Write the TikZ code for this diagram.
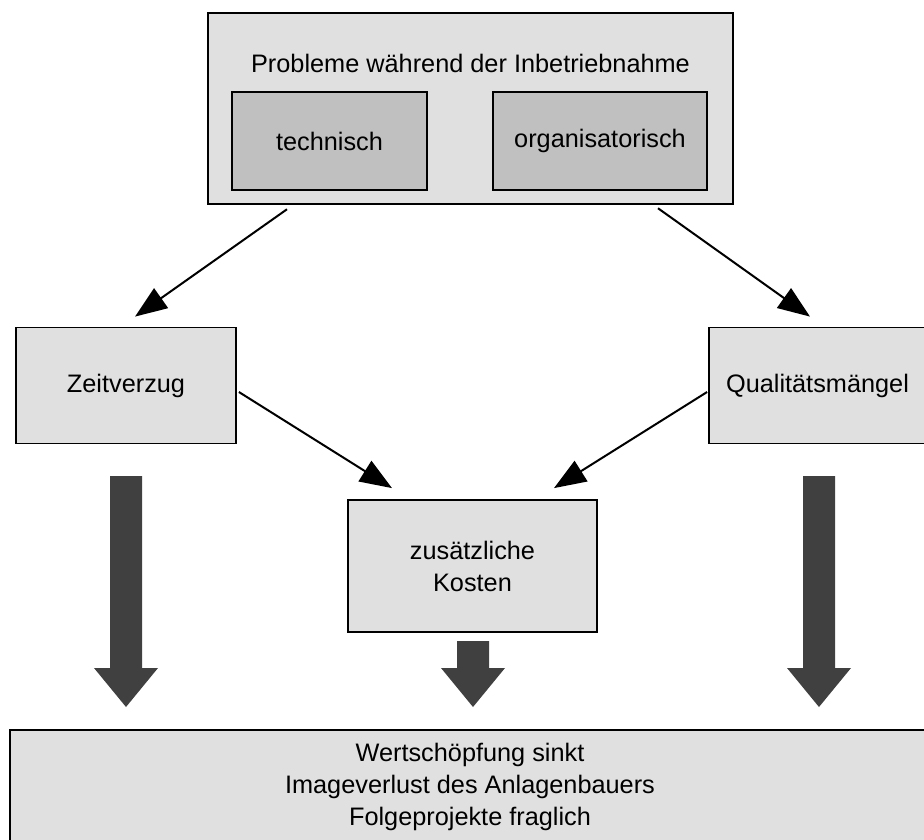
\documentclass[tikz,border=0pt]{standalone}
\usepackage{fontspec}
\setmainfont{Liberation Sans}
\usetikzlibrary{arrows.meta}
\definecolor{boxgray}{HTML}{E0E0E0}
\definecolor{innergray}{HTML}{C0C0C0}
\definecolor{fatgray}{HTML}{404040}
% filled block arrow: centre x, top of shaft, tip (all in px units)
\newcommand\fatarrow[3]{%
  \fill[fatgray] (#1-16,#2) -- (#1+16,#2) -- (#1+16,#3-39) -- (#1+32,#3-39)
    -- (#1,#3) -- (#1-32,#3-39) -- (#1-16,#3-39) -- cycle;}
\begin{document}
\begin{tikzpicture}[x=1pt,y=-1pt,
  every node/.style={font=\fontsize{25.3}{32}\selectfont, inner sep=0pt, align=center},
  outerbox/.style={draw=black, fill=boxgray, line width=2.5pt},
  plainbox/.style={draw=black, fill=boxgray, line width=1.8pt},
  innerbox/.style={draw=black, fill=innergray, line width=1.8pt},
  thinarrow/.style={draw=black, line width=2pt, -{Triangle[length=32pt,width=24pt]}}]
\useasboundingbox (0,0) rectangle (924,839);
\clip (0,0) rectangle (924,839);

% problem box with its two categories
\node[outerbox, minimum width=525pt, minimum height=191pt] (top) at (470.5,108.5) {};
\node (title) at (470.5,63) {Probleme während der Inbetriebnahme};
\node[innerbox, minimum width=195pt, minimum height=98pt] (tech) at (329.5,141) {technisch};
\node[innerbox, minimum width=214pt, minimum height=98pt] (org) at (600,141) {organisatorisch};

% consequences
\node[plainbox, minimum width=220pt, minimum height=116pt] (zeit) at (126,385.5) {Zeitverzug};
\node[plainbox, minimum width=217pt, minimum height=116pt] (qual) at (817.5,385.5) {Qualitätsmängel};
\node[plainbox, minimum width=249pt, minimum height=132pt] (kosten) at (472.5,566) {zusätzliche\\Kosten};

% final outcome
\node[outerbox, minimum width=920pt, minimum height=114pt] (result) at (470,787)
  {Wertschöpfung sinkt\\Imageverlust des Anlagenbauers\\Folgeprojekte fraglich};

% thin connectors
\draw[thinarrow] ([xshift=-183.5pt,yshift=-4pt]top.south) -- ([xshift=9pt,yshift=10pt]zeit.north);
\draw[thinarrow] ([xshift=187.5pt,yshift=-3pt]top.south) -- ([xshift=-7.5pt,yshift=10pt]qual.north);
\draw[thinarrow] ([xshift=2pt,yshift=-6.5pt]zeit.east) -- ([xshift=-80.5pt,yshift=11pt]kosten.north);
\draw[thinarrow] ([xshift=-1pt,yshift=-6.5pt]qual.west) -- ([xshift=81.5pt,yshift=11pt]kosten.north);

% block arrows into the outcome
\fatarrow{126}{476}{707}
\fatarrow{473}{641}{707}
\fatarrow{819}{476}{707}
\end{tikzpicture}
\end{document}
